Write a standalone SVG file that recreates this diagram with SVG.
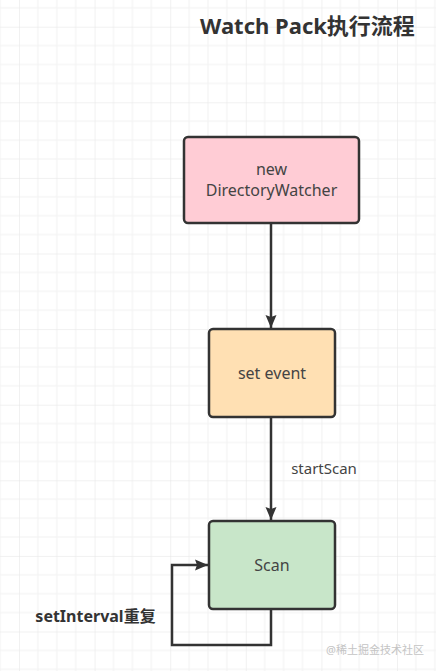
<svg xmlns="http://www.w3.org/2000/svg" width="436" height="671" viewBox="0 0 436 671">
<style>
.node rect{stroke:#333;stroke-width:2.5}
.lbl{font-family:"Noto Sans","Noto Sans CJK SC",sans-serif;font-size:16px;fill:#444;text-anchor:middle}
.edge{fill:none;stroke:#333;stroke-width:2.5}
.bold{font-family:"Noto Sans","Noto Sans CJK SC",sans-serif;font-weight:bold;fill:#333}
</style>
<defs>
<pattern id="grid" patternUnits="userSpaceOnUse" x="19" y="26.7" width="75.6" height="75.6">
<path d="M18.9 0V75.6M37.8 0V75.6M56.7 0V75.6M0 18.9H75.6M0 37.8H75.6M0 56.7H75.6" stroke="#f2f2f2" stroke-width="1" fill="none"/>
<path d="M0 0V75.6M0 0H75.6" stroke="#e4e4e4" stroke-width="1" fill="none"/>
</pattern>
<marker id="arr" markerUnits="userSpaceOnUse" markerWidth="14" markerHeight="12" refX="13" refY="6" orient="auto">
<path d="M0 0.5L13 6L0 11.5L2 6Z" fill="#333"/>
</marker>
</defs>
<rect width="436" height="671" fill="#fff"/>
<rect width="436" height="671" fill="url(#grid)"/>
<text class="bold" x="307.5" y="34" font-size="22" text-anchor="middle">Watch Pack执行流程</text>
<g id="connectors">
<path class="edge" d="M271 223V328" marker-end="url(#arr)"/>
<path class="edge" d="M271 417V520" marker-end="url(#arr)"/>
<path class="edge" d="M271 609V645H172V565H208" marker-end="url(#arr)"/>
<text class="lbl" x="324" y="474" style="font-size:15px">startScan</text>
<text class="bold" x="95.5" y="622" font-size="16" text-anchor="middle">setInterval重复</text>
</g>
<g id="node-new" class="node">
<rect x="184" y="137" width="175" height="86" rx="4" fill="#ffccd5"/>
<text class="lbl" x="271.5" y="175">new</text>
<text class="lbl" x="271.5" y="196">DirectoryWatcher</text>
</g>
<g id="node-set" class="node">
<rect x="209" y="329" width="126" height="88" rx="4" fill="#ffe0b3"/>
<text class="lbl" x="272" y="379">set event</text>
</g>
<g id="node-scan" class="node">
<rect x="209" y="521" width="126" height="88" rx="4" fill="#c8e6c9"/>
<text class="lbl" x="272" y="571">Scan</text>
</g>
<text x="375" y="654" font-family="'Noto Sans','Noto Sans CJK SC',sans-serif" font-size="11" fill="#c4c4c4" text-anchor="middle">@稀土掘金技术社区</text>
</svg>
